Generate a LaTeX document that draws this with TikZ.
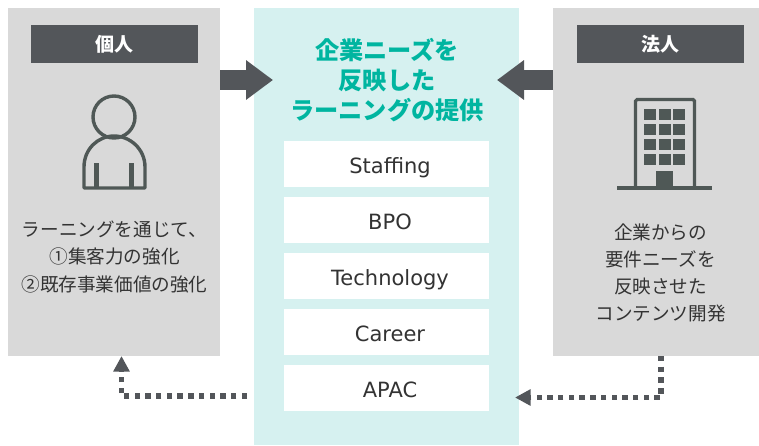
\documentclass[tikz,border=0pt]{standalone}
\usepackage{fontspec}
\setmainfont{DejaVu Sans}
\newfontfamily\cjk{Noto Sans CJK JP}
\usetikzlibrary{arrows.meta,positioning}
\definecolor{panelgray}{HTML}{D9D9D9}
\definecolor{darkgray}{HTML}{53565A}
\definecolor{icongray}{HTML}{4F5856}
\definecolor{paleteal}{HTML}{D6F1F0}
\definecolor{headteal}{HTML}{00B5A0}
\definecolor{textgray}{HTML}{333333}
\tikzset{
  box/.style={anchor=north west,inner sep=0pt,outer sep=0pt,minimum width=#1},
  panel/.style={box=#1,fill=panelgray},
  header/.style={box=167pt,minimum height=38pt,fill=darkgray,text=white,font=\cjk\bfseries\fontsize{19}{20}\selectfont},
  item/.style={box=205pt,minimum height=46pt,fill=white,text=textgray,text height=19pt,text depth=0pt,font=\fontsize{21}{22}\selectfont,execute at begin node={\hspace*{7pt}}},
  bodytext/.style={align=center,text=textgray,inner sep=0pt,font=\cjk\fontsize{18.6}{27.2}\selectfont},
  flow/.style={line width=20pt,darkgray,-{Triangle[length=27pt,width=38pt]}},
  feedback/.style={line width=5.4pt,darkgray,dash pattern=on 5.4pt off 5.3pt,-{Triangle[length=15.5pt,width=15.5pt]}},
  iconline/.style={draw=icongray,line width=3.4pt},
}
\begin{document}
\begin{tikzpicture}[x=1pt,y=-1pt]
\useasboundingbox (0,0) rectangle (759,445);
\node[panel=212pt,minimum height=348pt] (left) at (8,8) {};
\node[panel=206pt,minimum height=348pt] (right) at (553,8) {};
\node[box=265pt,minimum height=437pt,fill=paleteal] (center) at (254,8) {};
\node[header] (lefthead) at (31,25) {個人};
\node[header] (righthead) at (577,25) {法人};
% flow arrows
\coordinate (lefttip) at (273,80);
\coordinate (righttip) at (497,80);
\draw[flow] (left.east|-lefttip) -- (lefttip);
\draw[flow] (right.west|-righttip) -- (righttip);
% heading
\node[align=center,inner sep=0pt,text=headteal,font=\cjk\bfseries\fontsize{24.2}{30}\selectfont] (title) at (387,80) {企業ニーズを\\反映した\\ラーニングの提供};
% items
\node[item] (i1) at (284,141) {Staffing};
\node[item] (i2) at (284,197) {BPO};
\node[item] (i3) at (284,253) {Technology};
\node[item] (i4) at (284,309) {Career};
\node[item] (i5) at (284,365) {APAC};
% body text
\node[bodytext] (lefttext) at (114.5,257) {ラーニングを通じて、\\①集客力の強化\\②既存事業価値の強化};
\node[bodytext] (righttext) at (660.5,273) {企業からの\\要件ニーズを\\反映させた\\コンテンツ開発};
% person icon
\draw[iconline] (114,117) circle (21pt);
\draw[iconline,line join=round] (84,188) -- (84,167) .. controls (84,149) and (98,136) .. (114,136) .. controls (130,136) and (145,149) .. (145,167) -- (145,188) -- cycle;
\draw[draw=icongray,line width=4.4pt] (96.5,163) -- (96.5,188) (131.5,163) -- (131.5,188);
% building icon
\draw[icongray,line width=3.2pt,rounded corners=1.5pt] (635.5,188) -- (635.5,99.5) -- (694.5,99.5) -- (694.5,188);
\fill[icongray] (617,186) rectangle (712,190);
\fill[icongray] (656,171) rectangle (673,187);
\foreach \yy in {109,124,139,154}{
  \fill[icongray] (644,\yy) rectangle +(12,11);
  \fill[icongray] (659,\yy) rectangle +(12,11);
  \fill[icongray] (673,\yy) rectangle +(12,11);
}
% dotted feedback
\coordinate (lstart) at (247,396);
\coordinate (lcorner) at (121.5,396);
\coordinate (rcorner) at (661,397.5);
\coordinate (rtip) at (515,397.5);
\draw[feedback] (lstart) -- (lcorner) -- (lcorner|-left.south);
\draw[feedback] (rcorner|-right.south) -- (rcorner) -- (rtip);
\end{tikzpicture}
\end{document}
